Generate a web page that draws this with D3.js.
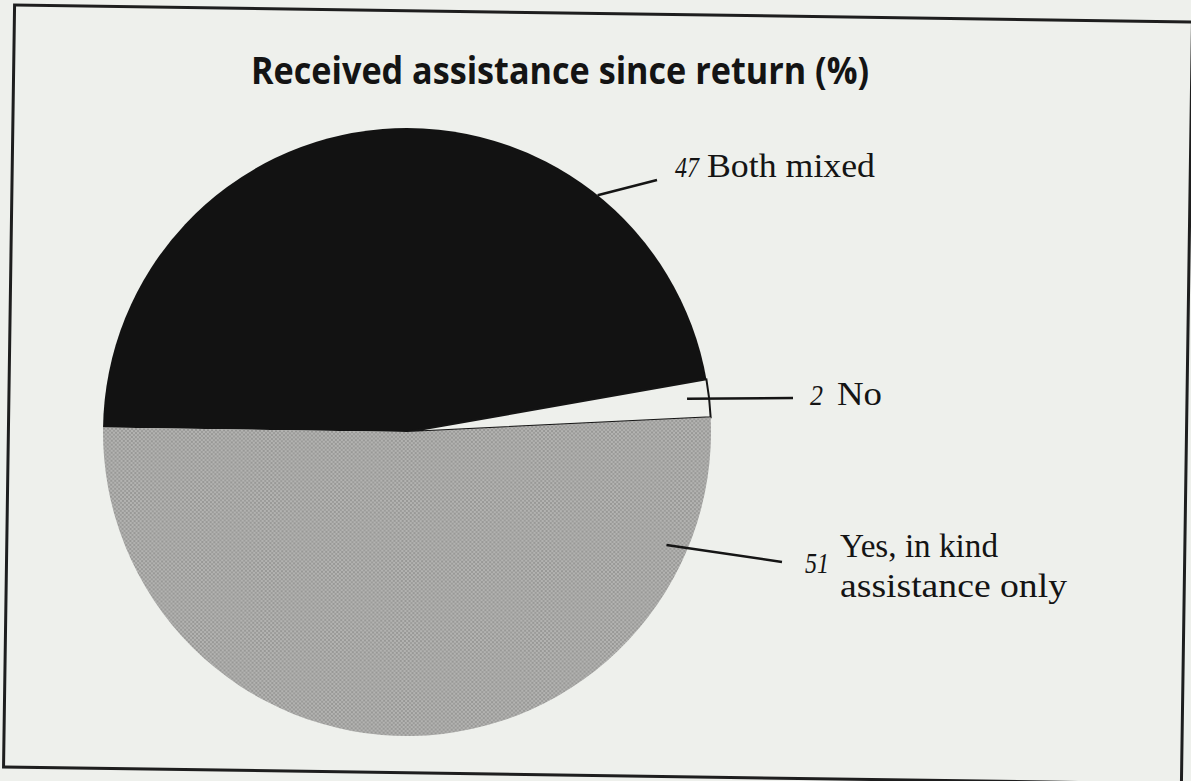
<!DOCTYPE html>
<html>
<head>
<meta charset="utf-8">
<script src="https://cdn.jsdelivr.net/npm/d3@7"></script>
<style>
  html, body { margin: 0; padding: 0; background: #eef0ec; }
  svg { display: block; }
</style>
</head>
<body>
<svg id="chart" width="1191" height="781"></svg>
<script>
// Survey answers, in percent
const categories = ["Both mixed", "No", "Yes, in kind assistance only"];
const values = [47, 2, 51];
const labelLines = [["Both mixed"], ["No"], ["Yes, in kind", "assistance only"]];
const title = "Received assistance since return (%)";

const W = 1191, H = 781;
const svg = d3.select("#chart");
const paper = "#eef0ec";

// halftone screen used for the grey slice
const defs = svg.append("defs");
const pat = defs.append("pattern")
  .attr("id", "screen").attr("patternUnits", "userSpaceOnUse")
  .attr("width", 4).attr("height", 4);
pat.append("rect").attr("width", 4).attr("height", 4).attr("fill", "#b3b3b1");
pat.append("rect").attr("width", 2).attr("height", 2).attr("fill", "#989896");
pat.append("rect").attr("x", 2).attr("y", 2).attr("width", 2).attr("height", 2).attr("fill", "#9c9c9a");

svg.append("rect").attr("width", W).attr("height", H).attr("fill", paper);

// page is set slightly askew
const tilt = 0.83;

// outer frame
svg.append("rect")
  .attr("x", 598 - 589).attr("y", 394.5 - 381)
  .attr("width", 1178).attr("height", 762)
  .attr("fill", "none").attr("stroke", "#1e1e1e").attr("stroke-width", 3)
  .attr("transform", `rotate(${tilt},598,394.5)`);

// title
svg.append("text")
  .attr("x", 560).attr("y", 84)
  .attr("text-anchor", "middle")
  .attr("font-family", "'Open Sans', sans-serif")
  .attr("font-weight", 700)
  .attr("font-size", 37)
  .attr("textLength", 618).attr("lengthAdjust", "spacingAndGlyphs")
  .attr("fill", "#141414")
  .text(title);

// pie
const cx = 407, cy = 432, r = 304;
const fills = ["#121212", paper, "url(#screen)"];
const pie = d3.pie().sort(null).value(d => d)
  .startAngle(-Math.PI / 2).endAngle(1.5 * Math.PI);
const arcs = pie(values);
const arc = d3.arc().innerRadius(0).outerRadius(r);

const g = svg.append("g").attr("transform", `translate(${cx},${cy}) rotate(${tilt})`);
g.selectAll("path.slice").data(arcs).join("path")
  .attr("class", "slice")
  .attr("d", arc)
  .attr("fill", (d, i) => fills[i])
  .attr("stroke", (d, i) => i === 1 ? "#151515" : "none")
  .attr("stroke-width", 2);

// leader lines and labels
const toRad = a => a * Math.PI / 180;
const pt = (angDeg, rad) => {
  const a = toRad(angDeg + tilt);
  return [cx + rad * Math.sin(a), cy - rad * Math.cos(a)];
};
const midDeg = d => ((d.startAngle + d.endAngle) / 2) * 180 / Math.PI;

const leaders = [
  { from: pt(38, 304), to: [657, 180] },
  { from: pt(midDeg(arcs[1]) - 0.4, 282), to: [793, 398] },
  { from: pt(112.7, 283), to: [782, 562] }
];
svg.selectAll("line.leader").data(leaders).join("line")
  .attr("class", "leader")
  .attr("x1", d => d.from[0]).attr("y1", d => d.from[1])
  .attr("x2", d => d.to[0]).attr("y2", d => d.to[1])
  .attr("stroke", "#151515").attr("stroke-width", 2.5);

const serif = "'Liberation Serif', 'Times New Roman', serif";
const numPos = [[675, 177, 24], [810, 405, 13], [805, 573, 24]];
const textPos = [
  [[707, 177, 168]],
  [[837, 405, 45]],
  [[840, 557, 158], [840, 597, 227]]
];

svg.selectAll("text.num").data(values).join("text")
  .attr("class", "num")
  .attr("x", (d, i) => numPos[i][0]).attr("y", (d, i) => numPos[i][1])
  .attr("font-family", serif).attr("font-style", "italic")
  .attr("font-size", 30)
  .attr("textLength", (d, i) => numPos[i][2]).attr("lengthAdjust", "spacingAndGlyphs")
  .attr("fill", "#141414")
  .text(d => d);

labelLines.forEach((lines, i) => {
  lines.forEach((line, j) => {
    const p = textPos[i][j];
    svg.append("text")
      .attr("x", p[0]).attr("y", p[1])
      .attr("font-family", serif)
      .attr("font-size", 33)
      .attr("textLength", p[2]).attr("lengthAdjust", "spacingAndGlyphs")
      .attr("fill", "#141414")
      .text(line);
  });
});
</script>
</body>
</html>
